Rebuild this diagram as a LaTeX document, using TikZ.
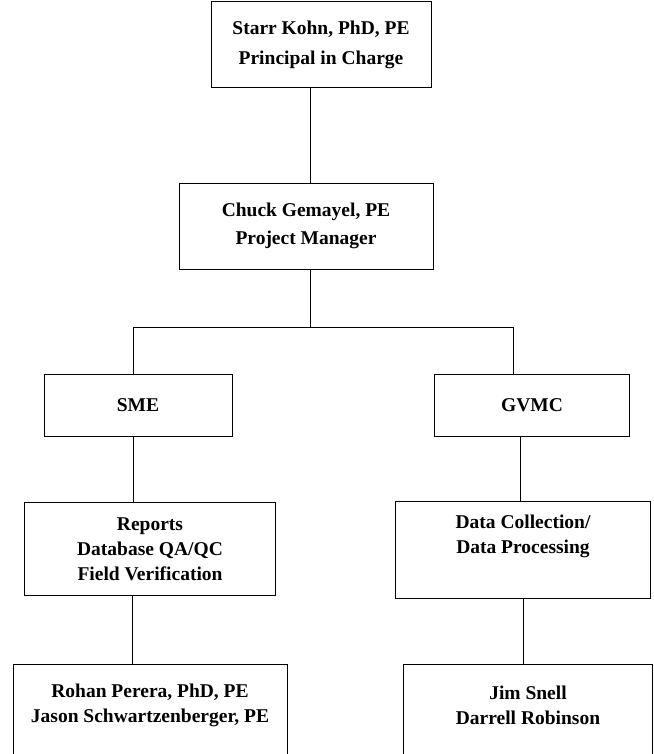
\documentclass[tikz,border=0pt]{standalone}
\usepackage{fontspec}
\setmainfont{Liberation Serif}

\tikzset{
	orgbox/.style={draw,line width=1pt,rectangle,inner sep=0pt,align=center,
		font=\bfseries\fontsize{19.5}{25}\selectfont},
	link/.style={line width=1pt}
}

\begin{document}
\begin{tikzpicture}[x=1pt,y=-1pt]
		\useasboundingbox (0,0) rectangle (653,754);
		
		% Top two levels
		\node[orgbox,minimum width=220pt,minimum height=86pt,font=\bfseries\fontsize{19.5}{30}\selectfont] (kohn) at (321,45) {Starr Kohn, PhD, PE\\Principal in Charge};
		\node[orgbox,minimum width=254pt,minimum height=86pt,font=\bfseries\fontsize{19.5}{28}\selectfont] (gemayel) at (306,226) {Chuck Gemayel, PE\\Project Manager};
		
		% Firms
		\node[orgbox,minimum width=188pt,minimum height=62pt] (sme) at (138,405) {SME};
		\node[orgbox,minimum width=195pt,minimum height=62pt] (gvmc) at (532,405) {GVMC};
		
		% Tasks
		\node[orgbox,minimum width=251pt,minimum height=93pt] (tasks) at (150,549) {Reports\\Database QA/QC\\Field Verification};
		\node[orgbox,minimum width=255pt,minimum height=97pt] (data) at (523,550) {Data Collection/\\Data Processing\\\strut};
		
		% Staff (boxes run off the page)
		\node[orgbox,draw=none,minimum width=273pt,minimum height=80pt] (perera) at (150,705) {Rohan Perera, PhD, PE\\Jason Schwartzenberger, PE};
		\node[orgbox,draw=none,minimum width=248pt,minimum height=80pt] (snell) at (528,705) {Jim Snell\\Darrell Robinson};
		\draw[link] ([yshift=-16pt]perera.south west) -- (perera.north west) -- (perera.north east) -- ([yshift=-16pt]perera.south east);
		\draw[link] ([yshift=-16pt]snell.south west) -- (snell.north west) -- (snell.north east) -- ([yshift=-16pt]snell.south east);
		
		% Connectors
		\coordinate (trunk) at (310,327);
		\coordinate (busL) at (133,327);
		\coordinate (busR) at (513,327);
		\draw[link] (kohn.south -| trunk) -- (gemayel.north -| trunk);
		\draw[link] (gemayel.south -| trunk) -- (trunk);
		\draw[link] (sme.north -| busL) -- (busL) -- (busR) -- (gvmc.north -| busR);
		\draw[link] (sme.south -| busL) -- (tasks.north -| busL);
		\draw[link] ([xshift=-12pt]gvmc.south) -- ([xshift=-12pt]gvmc.south |- data.north);
		\draw[link] ([xshift=-18pt]tasks.south) -- ([xshift=-18pt]tasks.south |- perera.north);
		\draw[link] (data.south) -- (data.south |- snell.north);
		
	\end{tikzpicture}
\end{document}
